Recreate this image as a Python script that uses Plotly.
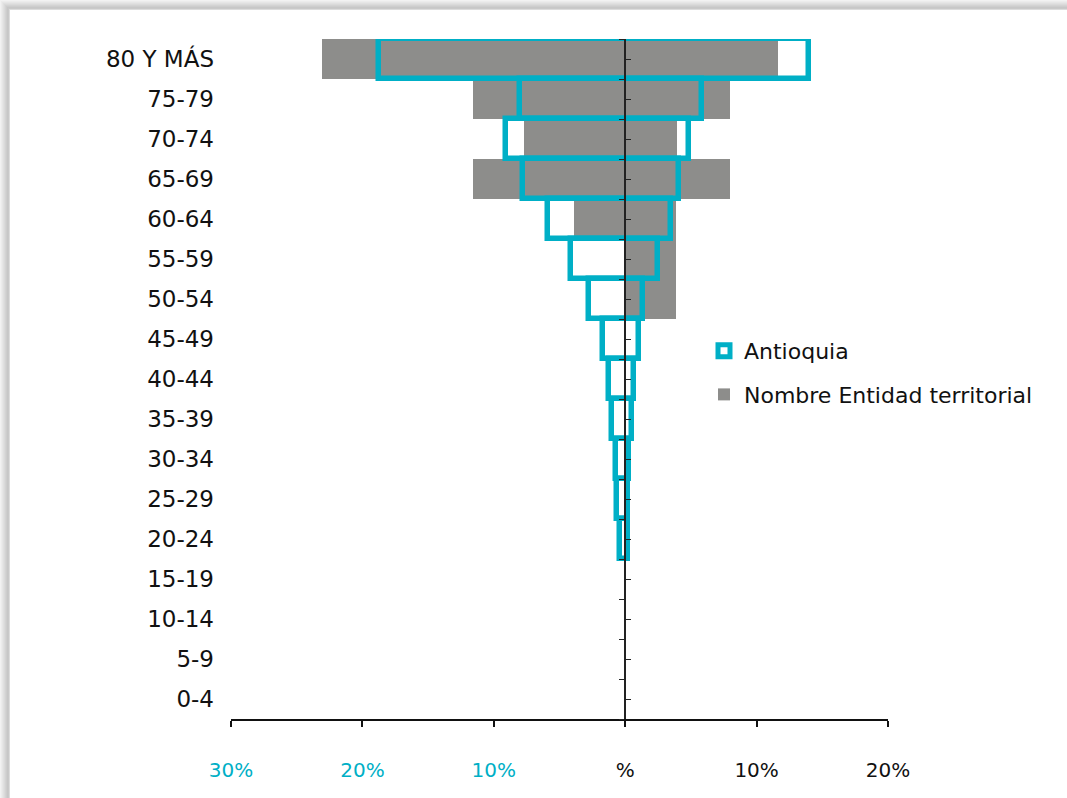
import plotly.graph_objects as go

# Age groups, bottom to top
age_groups = ["0-4", "5-9", "10-14", "15-19", "20-24", "25-29", "30-34", "35-39",
              "40-44", "45-49", "50-54", "55-59", "60-64", "65-69", "70-74",
              "75-79", "80 Y MÁS"]

# Percent of population on each side of the pyramid (left side shown as negative)
antioquia_left = [0, 0, 0, 0, 0.43, 0.63, 0.71, 1.04, 1.24, 1.70, 2.72, 4.13,
                  5.86, 7.76, 9.09, 8.00, 18.72]
antioquia_right = [0, 0, 0, 0, 0.21, 0.23, 0.30, 0.51, 0.66, 1.07, 1.37, 2.46,
                   3.48, 4.11, 4.87, 5.81, 14.00]
entidad_left = [0, 0, 0, 0, 0, 0, 0, 0, 0, 0, 0, 0,
                3.88, 11.55, 7.70, 11.55, 23.07]
entidad_right = [0, 0, 0, 0, 0, 0, 0, 0, 0, 0, 3.90, 3.90,
                 3.90, 7.95, 3.95, 7.95, 11.60]

x_ticks = [-30, -20, -10, 0, 10, 20]
x_tick_labels = ["30%", "20%", "10%", "%", "10%", "20%"]

TEAL = "#00AFC6"
GREY = "#8D8D8B"
INK = "#111111"
FONT = "DejaVu Sans"

# Figure geometry in pixels
W, H = 1067, 798
L, R, T, B = 231, 179, 39, 79
pw, ph = W - L - R, H - T - B
X_MIN, X_MAX = x_ticks[0], x_ticks[-1]
zero_frac = (0 - X_MIN) / (X_MAX - X_MIN)
n = len(age_groups)


def px_x(p):
    return (p - L) / pw


def px_y(p):
    return (H - B - p) / ph


def spans(left, right):
    """Bar start and length for each row; empty rows get no bar."""
    base, length = [], []
    for a, b in zip(left, right):
        if a + b == 0:
            base.append(None)
            length.append(None)
        else:
            base.append(-a)
            length.append(a + b)
    return base, length


fig = go.Figure()

g_base, g_len = spans(entidad_left, entidad_right)
fig.add_trace(go.Bar(
    name="Nombre Entidad territorial", y=age_groups, x=g_len, base=g_base,
    orientation="h", marker=dict(color=GREY, line=dict(width=0)),
    legendrank=2, legendgroup="b",
))

# Outlined series sits on the overlaid axis that also draws the zero line
a_base, a_len = spans(antioquia_left, antioquia_right)
fig.add_trace(go.Bar(
    name="Antioquia", y=list(range(n)), x=a_len, base=a_base, yaxis="y2",
    orientation="h",
    marker=dict(color="rgba(0,0,0,0)", line=dict(color=TEAL, width=5.5)),
    legendrank=1, legendgroup="a",
))

colored = []
for v, t in zip(x_ticks, x_tick_labels):
    c = TEAL if v < 0 else INK
    colored.append(f'<span style="color:{c}">{t}</span>')

fig.update_layout(
    width=W, height=H,
    margin=dict(l=L, r=R, t=T, b=B, pad=0, autoexpand=False),
    paper_bgcolor="white", plot_bgcolor="white",
    barmode="overlay", bargap=0,
    font=dict(family=FONT, color=INK),
    showlegend=True,
    legend=dict(
        x=px_x(704), y=px_y(330), xanchor="left", yanchor="top",
        font=dict(size=22, family=FONT, color=INK),
        bgcolor="rgba(0,0,0,0)", tracegroupgap=12, itemwidth=30,
        traceorder="grouped",
    ),
    xaxis=dict(
        range=[X_MIN, X_MAX], tickvals=x_ticks, ticktext=colored,
        showgrid=False, zeroline=False, automargin=False,
        showline=True, linecolor=INK, linewidth=2,
        ticks="outside", ticklen=6, tickwidth=1.5, tickcolor=INK,
        ticklabelstandoff=26,
        tickfont=dict(size=20, family=FONT),
        fixedrange=True,
    ),
    yaxis=dict(
        type="category", categoryorder="array", categoryarray=age_groups,
        range=[-0.5, n - 0.5], showgrid=False, zeroline=False, showline=False,
        automargin=False, ticks="", ticklabelstandoff=16,
        tickfont=dict(size=23, family=FONT, color=INK),
    ),
    # vertical line through zero: ticks at row centres to the right,
    # ticks at row boundaries to the left
    yaxis2=dict(
        overlaying="y", anchor="free", position=zero_frac, side="right",
        range=[-0.5, n - 0.5], tickvals=list(range(n)),
        showticklabels=False, showgrid=False, zeroline=False, automargin=False,
        showline=True, linecolor="#222222", linewidth=1.5,
        ticks="outside", ticklen=5, tickwidth=1.2, tickcolor="#222222",
        minor=dict(tickvals=[i - 0.5 for i in range(n + 1)], ticks="inside",
                   ticklen=5, tickwidth=1.2, tickcolor="#222222",
                   showgrid=False),
    ),
)

# soft card shadow along the top and left edges
shadow = ["#f2f2f2", "#ececec", "#e6e6e6", "#e0e0e0", "#dadada",
          "#d3d3d3", "#cdcdcd", "#c7c7c7", "#c9c9c9", "#dcdcdc"]
for i, c in enumerate(shadow):
    fig.add_shape(type="rect", xref="paper", yref="paper", layer="below",
                  x0=px_x(i), x1=px_x(W + 2), y0=px_y(i), y1=px_y(i + 1),
                  fillcolor=c, line=dict(width=0))
    fig.add_shape(type="rect", xref="paper", yref="paper", layer="below",
                  x0=px_x(i), x1=px_x(i + 1), y0=px_y(H + 2), y1=px_y(i),
                  fillcolor=c, line=dict(width=0))

fig.write_html("out.html")
